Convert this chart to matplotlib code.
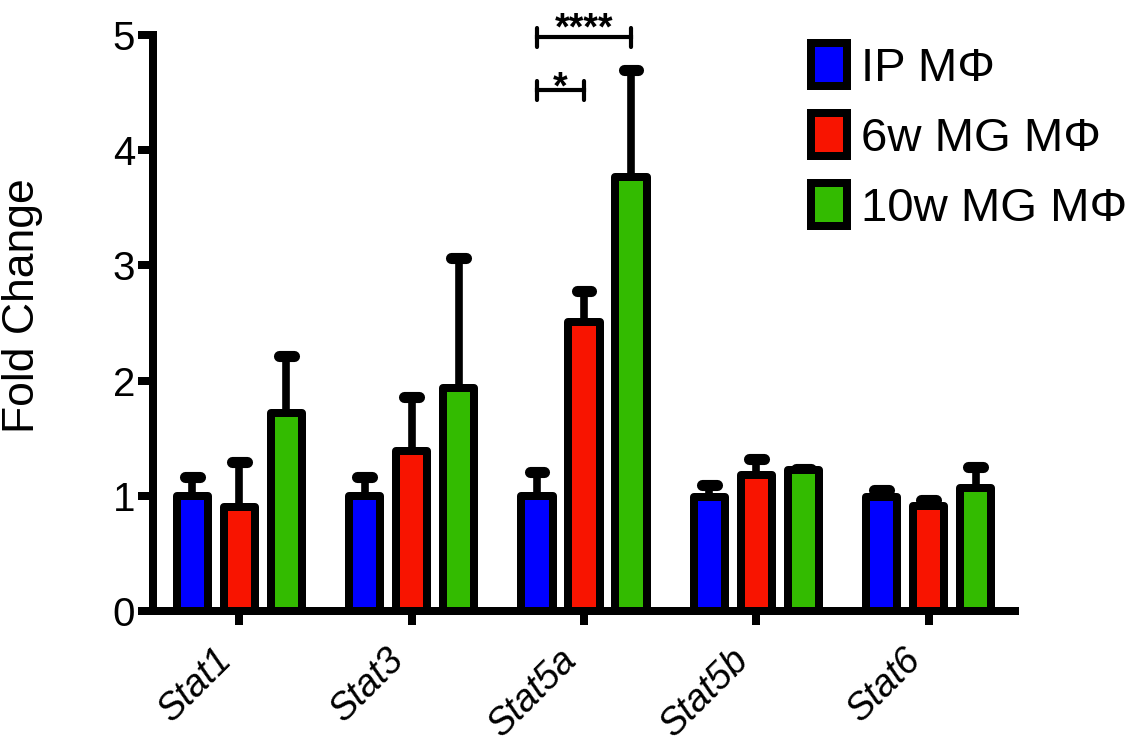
import matplotlib
matplotlib.use("Agg")
import matplotlib.pyplot as plt
import numpy as np

plt.rcParams['font.family'] = ['Liberation Sans', 'DejaVu Sans']

genes = ["Stat1", "Stat3", "Stat5a", "Stat5b", "Stat6"]
groups = ["IP M\u03a6", "6w MG M\u03a6", "10w MG M\u03a6"]
colors = ["#0000FF", "#F81400", "#33BB00"]

ip_mean = [1.00, 1.00, 1.00, 0.99, 0.99]
ip_err = [0.16, 0.16, 0.21, 0.10, 0.06]
mg6_mean = [0.90, 1.39, 2.51, 1.18, 0.91]
mg6_err = [0.39, 0.47, 0.27, 0.14, 0.05]
mg10_mean = [1.72, 1.94, 3.77, 1.22, 1.07]
mg10_err = [0.49, 1.12, 0.93, 0.01, 0.18]

means = [ip_mean, mg6_mean, mg10_mean]
errs = [ip_err, mg6_err, mg10_err]

W, H = 1142, 748
fig = plt.figure(figsize=(W / 100, H / 100), dpi=100)
ax = fig.add_axes([153 / W, 1 - 611 / H, (1015 - 153) / W, (611 - 35) / H])

x = np.arange(len(genes))
spacing = 0.2726
bw = 0.18
lw = 5.76
cap_hw = 0.043

for i, (m, e, c, g) in enumerate(zip(means, errs, colors, groups)):
    xs = x + (i - 1) * spacing
    ax.bar(xs, m, width=bw, color=c, edgecolor="black", linewidth=lw,
           joinstyle="round", label=g, zorder=3)
    for xi, mi, ei in zip(xs, m, e):
        ax.plot([xi, xi], [mi, mi + ei], color="black", lw=5.5,
                solid_capstyle="butt", zorder=2)
        ax.plot([xi - cap_hw, xi + cap_hw], [mi + ei, mi + ei], color="black",
                lw=8, solid_capstyle="round", zorder=2)

# significance brackets (Stat5a): (group a, group b, bracket y, label y, label)
sig_pairs = [(0, 2, 4.98, 4.96, "****"), (0, 1, 4.52, 4.45, "*")]
for a, b, yb, yt, txt in sig_pairs:
    xa = x[2] + (a - 1) * spacing
    xb = x[2] + (b - 1) * spacing
    ax.plot([xa, xb], [yb, yb], color="black", lw=3, zorder=4, clip_on=False)
    for xe in (xa, xb):
        ax.plot([xe, xe], [yb - 0.085, yb + 0.085], color="black", lw=3,
                solid_capstyle="round", zorder=4, clip_on=False)
    ax.text((xa + xb) / 2, yt, txt, ha="center", va="baseline",
            fontsize=27, fontweight="bold", clip_on=False)

ax.set_xlim(-0.5, 4.5)
ax.set_ylim(0, 5)
ax.set_yticks([0, 1, 2, 3, 4, 5])
ax.set_xticks(x)
ax.set_xticklabels(genes, rotation=45, ha="right", fontstyle="italic", fontsize=27)
ax.tick_params(axis="y", labelsize=29, width=lw, length=11, pad=2)
ax.tick_params(axis="x", width=lw, length=10, pad=12)

for s in ["top", "right"]:
    ax.spines[s].set_visible(False)
for s in ["left", "bottom"]:
    ax.spines[s].set_linewidth(lw)
    ax.spines[s].set_capstyle("projecting")

ax.set_ylabel("Fold Change", fontsize=32)
ax.yaxis.set_label_coords(-0.128, 0.531)

leg = ax.legend(loc="upper left", bbox_to_anchor=(811 / W, 1 - 43 / H),
                bbox_transform=fig.transFigure, frameon=False, fontsize=34,
                handlelength=0.76, handleheight=1.03, handletextpad=0.3,
                labelspacing=0.47, borderaxespad=0, borderpad=0)
for p in leg.get_patches():
    p.set_linewidth(lw)

fig.savefig("out.png", dpi=100)
